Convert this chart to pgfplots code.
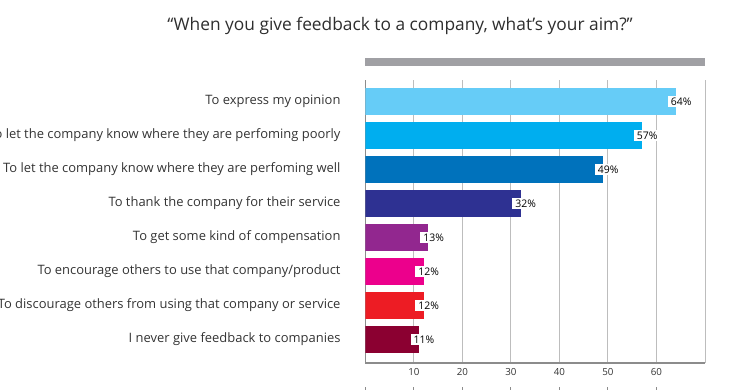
\documentclass[border=0pt]{standalone}
\usepackage{fontspec}
\setmainfont{Open Sans}
\usepackage{pgfplots}
\pgfplotsset{compat=1.18}
\definecolor{cA}{HTML}{66CCF7}
\definecolor{cB}{HTML}{00AEEF}
\definecolor{cC}{HTML}{0072BC}
\definecolor{cD}{HTML}{2E3192}
\definecolor{cE}{HTML}{92278F}
\definecolor{cF}{HTML}{EC008C}
\definecolor{cG}{HTML}{ED1C24}
\definecolor{cH}{HTML}{8B0031}
\definecolor{titlegray}{HTML}{2E2E2E}
\definecolor{labelgray}{HTML}{333333}
\definecolor{topbar}{HTML}{A0A0A4}
\definecolor{gridgray}{HTML}{BDBDBD}
\definecolor{axisgray}{HTML}{8C8C8C}
\begin{document}
\begin{tikzpicture}[x=1bp,y=1bp]
\useasboundingbox (0,0) rectangle (730,-389);
\clip (0,0) rectangle (730,-389);
\node[font=\fontsize{17.4}{20}\selectfont, text=titlegray] at (400,-26) {“When you give feedback to a company, what’s your aim?”};
\fill[topbar] (365,-58) rectangle (705,-66);
\begin{axis}[
  at={(365.3bp,-363bp)}, anchor=south west,
  scale only axis, width=339.7bp, height=283bp,
  xmin=0, xmax=70, ymin=-0.63, ymax=7.69, y dir=reverse,
  xbar,
  every axis plot/.append style={bar shift=0pt, bar width=27bp, draw=none},
  axis lines=left,
  axis line style={-, draw=axisgray, line width=1.2bp},
  xtick={10,20,...,60},
  extra x ticks={70}, extra x tick labels={},
  extra x tick style={grid=major},
  xmajorgrids,
  grid style={gridgray, line width=1bp},
  major tick length=0pt,
  ytick={0,...,7},
  yticklabels={To express my opinion,
    To let the company know where they are perfoming poorly,
    To let the company know where they are perfoming well,
    To thank the company for their service,
    To get some kind of compensation,
    To encourage others to use that company/product,
    To discourage others from using that company or service,
    I never give feedback to companies},
  yticklabel style={anchor=east, inner sep=0pt, xshift=-24.6bp, font=\fontsize{13}{15}\selectfont, text=labelgray},
  xticklabel style={anchor=north, inner sep=0pt, yshift=-5bp, font=\fontsize{9.8}{12}\selectfont, text=labelgray},
  /pgf/number format/assume math mode=true,
  point meta=x,
  nodes near coords={\pgfmathprintnumber{\pgfplotspointmeta}\%},
  nodes near coords style={font=\fontsize{10.5}{11}\selectfont, text=black, fill=white, inner xsep=3bp, inner ysep=1.5bp, anchor=west, xshift=-8.3bp},
]
\addplot[fill=cA] coordinates {(64,0)};
\addplot[fill=cB] coordinates {(57,1)};
\addplot[fill=cC] coordinates {(49,2)};
\addplot[fill=cD] coordinates {(32,3)};
\addplot[fill=cE] coordinates {(13,4)};
\addplot[fill=cF] coordinates {(12,5)};
\addplot[fill=cG] coordinates {(12,6)};
\addplot[fill=cH] coordinates {(11,7)};
\end{axis}
\foreach \x in {0,10,...,60} \draw[axisgray, line width=1bp] ({365.3+4.853*\x},-387) -- ({365.3+4.853*\x},-391);
\end{tikzpicture}
\end{document}
